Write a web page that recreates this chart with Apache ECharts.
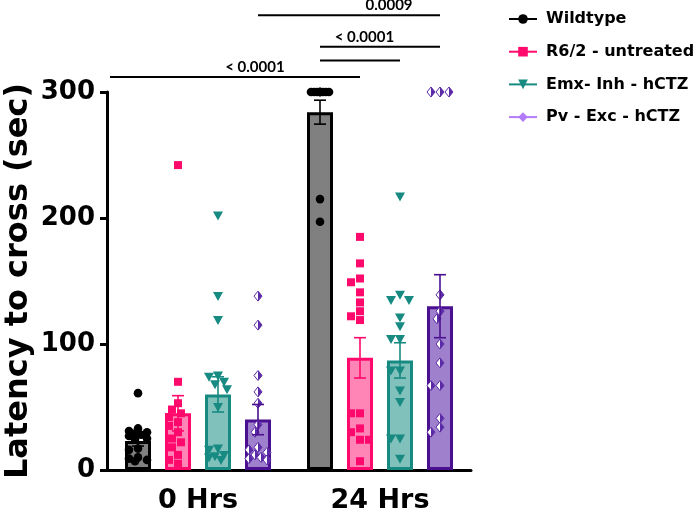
<!DOCTYPE html>
<html><head><meta charset="utf-8">
<script src="https://cdn.jsdelivr.net/npm/echarts@6/dist/echarts.min.js"></script>
<style>html,body{margin:0;padding:0;background:#fff}#c{width:699px;height:515px}</style>
</head><body><div id="c"></div>
<script>
// ---------------- data ----------------
const categories = ['0 Hrs', '24 Hrs'];
const groupNames = ['Wildtype', 'R6/2 - untreated', 'Emx- Inh - hCTZ', 'Pv - Exc - hCTZ'];
const yTicks = [0, 100, 200, 300];

const meanWildtype = [23, 284];
const meanR62 = [45, 89];
const meanEmx = [60, 87];
const meanPv = [40, 130];

const semWildtype = [4, 9.5];
const semR62 = [14, 16];
const semEmx = [14, 14];
const semPv = [12, 25];

const ptsWildtype0 = [61, 33, 31, 30, 29, 28, 27, 25, 24, 17, 16, 10, 9, 8, 7];
const ptsWildtype24 = [300, 300, 300, 300, 300, 300, 300, 300, 300, 300, 215, 197];
const ptsR620 = [242, 70, 53, 48, 45, 42, 38, 35, 30, 25, 22, 18, 12, 8, 5];
const ptsR6224 = [185, 164, 152, 149, 141, 133, 126, 122, 119, 45, 45, 33, 30, 24, 24, 7];
const ptsEmx0 = [202, 138, 119, 75, 74, 70, 68, 64, 50, 17, 16, 12, 11, 10, 8];
const ptsEmx24 = [217, 139, 135, 135, 121, 114, 104, 104, 79, 79, 63, 54, 25, 25, 9];
const ptsPv0 = [138, 115, 75, 62, 53, 36, 30, 18, 16, 14, 12, 10, 9, 8];
const ptsPv24 = [300, 300, 300, 139, 126, 120, 100, 85, 67, 67, 41, 34, 30];

// significance brackets: [category, groupIndex] endpoints (null = y axis), level in axis units, label
const sigFrom = [[0, 3], [1, 0], [1, 0], [1, 0], null];
const sigTo = [[1, 3], [1, 3], [1, 2], [1, 1], [1, 0]];
const sigLevel = [361, 336, 325, 312, 312];
const sigLabel = ['0.0009', '< 0.0001', '', '', '< 0.0001'];
const sigLabelPos = [0.72, 0.37, 0, 0, 0.69];

// ---------------- styles ----------------
const FONT = 'DejaVu Sans, Liberation Sans, sans-serif';
const fills = ['#808080', '#FF85B6', '#80C1BC', '#9F80CC'];
const borders = ['#000000', '#FF0A6C', '#178A82', '#4B108F'];
const markColors = ['#000000', '#FF0A6C', '#178A82', '#5B2AA6'];
const legendColors = ['#000000', '#FF0A6C', '#178A82', '#B27CF8'];
const BAR_W = 26, BAR_SPACE = 14;

const means = [meanWildtype, meanR62, meanEmx, meanPv];
const sems = [semWildtype, semR62, semEmx, semPv];
const pts = [[ptsWildtype0, ptsWildtype24], [ptsR620, ptsR6224], [ptsEmx0, ptsEmx24], [ptsPv0, ptsPv24]];

function barOffset(k) { return (k - 1.5) * (BAR_W + BAR_SPACE); }

const chart = echarts.init(document.getElementById('c'));

const baseOption = {
  animation: false,
  backgroundColor: '#ffffff',
  grid: { left: 107, right: 228, top: 92, bottom: 45, containLabel: false },
  xAxis: {
    type: 'category', data: categories,
    axisLine: { lineStyle: { color: '#000', width: 3 } },
    axisTick: { alignWithLabel: true, length: 7, lineStyle: { color: '#000', width: 3 } },
    axisLabel: { color: '#000', fontSize: 27, fontWeight: 'bold', fontFamily: FONT, margin: 17 }
  },
  yAxis: {
    type: 'value', min: yTicks[0], max: yTicks[yTicks.length - 1], interval: yTicks[1] - yTicks[0],
    splitLine: { show: false },
    axisLine: { show: true, lineStyle: { color: '#000', width: 3 } },
    axisTick: { show: true, length: 7, lineStyle: { color: '#000', width: 3 } },
    axisLabel: { color: '#000', fontSize: 26, fontWeight: 'bold', fontFamily: FONT, margin: 12 }
  },
  legend: {
    data: groupNames, orient: 'vertical', left: 503, top: 4,
    itemWidth: 28, itemHeight: 12, itemGap: 12.7,
    textStyle: { color: '#000', fontSize: 16, fontWeight: 'bold', fontFamily: FONT, padding: [0, 0, 0, 4], lineHeight: 20 }
  },
  series: []
};

means.forEach((m, k) => {
  baseOption.series.push({
    type: 'bar', name: 'bar' + k, data: m, barWidth: BAR_W,
    barGap: (BAR_SPACE / BAR_W * 100) + '%', z: 2,
    itemStyle: { color: fills[k], borderColor: borders[k], borderWidth: 3 }
  });
});
const legendSymbols = ['circle', 'rect', 'path://M0,0 L10,0 L5,9 Z', 'diamond'];
groupNames.forEach((n, k) => {
  baseOption.series.push({
    type: 'line', name: n, data: [], symbol: legendSymbols[k], symbolSize: 10,
    itemStyle: { color: legendColors[k] }, lineStyle: { color: legendColors[k], width: 2 }
  });
});
chart.setOption(baseOption);

// pixel scale for swarm layout
const p0 = chart.convertToPixel({ yAxisIndex: 0 }, 0);
const p300 = chart.convertToPixel({ yAxisIndex: 0 }, 300);
const pxPerUnit = (p0 - p300) / 300;

function swarm(values) {
  const order = values.map((v, i) => i).sort((a, b) => values[b] - values[a]);
  const placed = [], offs = new Array(values.length);
  const cands = [0, -3, 3, -6, 6, -9, 9];
  const D = 8;
  for (const i of order) {
    const y = values[i] * pxPerUnit;
    let best = 0, bestD = -1;
    for (const c of cands) {
      let md = Infinity;
      for (const p of placed) { const d = Math.hypot(p[0] - c, p[1] - y); if (d < md) md = d; }
      if (md >= D) { best = c; bestD = md; break; }
      if (md > bestD) { bestD = md; best = c; }
    }
    offs[i] = best; placed.push([best, y]);
  }
  return offs;
}

function markerShape(k, x, y) {
  const c = markColors[k];
  if (k === 0) return { type: 'circle', shape: { cx: x, cy: y, r: 4.3 }, style: { fill: c } };
  if (k === 1) return { type: 'rect', shape: { x: x - 4, y: y - 4, width: 8, height: 8 }, style: { fill: c } };
  if (k === 2) return { type: 'polygon', shape: { points: [[x - 5, y - 4], [x + 5, y - 4], [x, y + 5]] }, style: { fill: c } };
  return {
    type: 'group', children: [
      { type: 'polygon', shape: { points: [[x, y - 5], [x + 4, y], [x, y + 5], [x - 4, y]] }, style: { fill: '#ffffff', stroke: c, lineWidth: 1 } },
      { type: 'polygon', shape: { points: [[x, y - 5], [x + 4, y], [x, y + 5]] }, style: { fill: c } }
    ]
  };
}

const extraSeries = [];
pts.forEach((byCat, k) => {
  const data = [];
  byCat.forEach((vals, ci) => {
    const offs = swarm(vals);
    vals.forEach((v, i) => data.push([ci, v, offs[i]]));
  });
  extraSeries.push({
    type: 'custom', name: 'pts' + k, data: data, z: 5, clip: false,
    renderItem: function (params, api) {
      const p = api.coord([api.value(0), api.value(1)]);
      return markerShape(k, p[0] + barOffset(k) + api.value(2), p[1]);
    }
  });
});
means.forEach((m, k) => {
  const data = m.map((v, ci) => [ci, v, sems[k][ci]]);
  extraSeries.push({
    type: 'custom', name: 'err' + k, data: data, z: 6, clip: false,
    renderItem: function (params, api) {
      const ci = api.value(0), v = api.value(1), s = api.value(2);
      const top = api.coord([ci, v + s]), bot = api.coord([ci, v - s]);
      const x = top[0] + barOffset(k);
      const st = { stroke: borders[k], lineWidth: 1.6 };
      return {
        type: 'group', children: [
          { type: 'line', shape: { x1: x, y1: top[1], x2: x, y2: bot[1] }, style: st },
          { type: 'line', shape: { x1: x - 6, y1: top[1], x2: x + 6, y2: top[1] }, style: st },
          { type: 'line', shape: { x1: x - 6, y1: bot[1], x2: x + 6, y2: bot[1] }, style: st }
        ]
      };
    }
  });
});

// significance brackets
const graphics = [];
const cw = chart.convertToPixel({ xAxisIndex: 0 }, 1) - chart.convertToPixel({ xAxisIndex: 0 }, 0);
const yAxisX = chart.convertToPixel({ xAxisIndex: 0 }, 0) - cw / 2;
function endX(e) {
  if (!e) return yAxisX + 3;
  return chart.convertToPixel({ xAxisIndex: 0 }, e[0]) + barOffset(e[1]);
}
sigLevel.forEach((lv, i) => {
  const x1 = endX(sigFrom[i]), x2 = endX(sigTo[i]);
  const y = chart.convertToPixel({ yAxisIndex: 0 }, lv);
  graphics.push({ type: 'line', shape: { x1: x1, y1: y, x2: x2, y2: y }, style: { stroke: '#000', lineWidth: 2 }, silent: true });
  if (sigLabel[i]) {
    graphics.push({
      type: 'text', x: x1 + (x2 - x1) * sigLabelPos[i], y: y - 2, silent: true,
      style: { text: sigLabel[i], align: 'center', verticalAlign: 'bottom', fill: '#000', font: 'bold 15px Lato, sans-serif' }
    });
  }
});
const yMid = (p0 + p300) / 2;
graphics.push({
  type: 'text', x: 19, y: yMid, rotation: Math.PI / 2, silent: true,
  style: { text: 'Latency to cross (sec)', align: 'center', verticalAlign: 'middle', fill: '#000', font: 'bold 32px ' + FONT }
});

chart.setOption({ series: baseOption.series.concat(extraSeries), graphic: graphics });
</script>
</body></html>
